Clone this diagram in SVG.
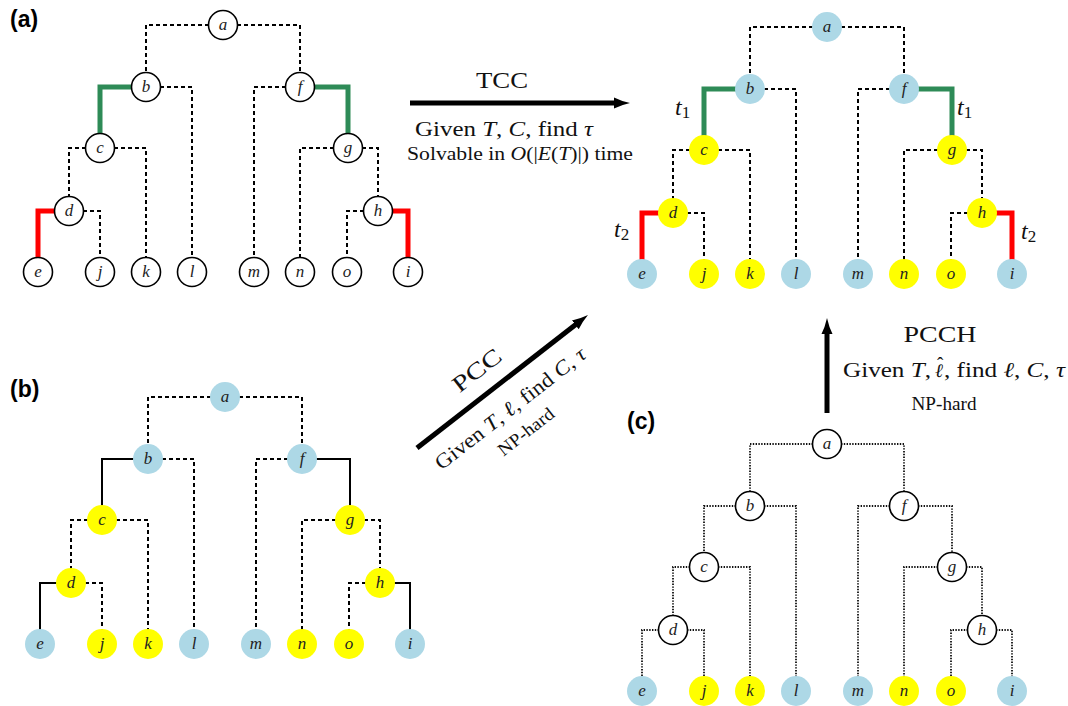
<svg xmlns="http://www.w3.org/2000/svg" width="1068" height="706" viewBox="0 0 1068 706">
<defs>
<style>
.w{fill:#fff;stroke:#000;stroke-width:1.6}
.b{fill:#add8e6}
.y{fill:#ffff00}
.nl{font-family:"Liberation Serif",serif;font-style:italic;font-size:17px;text-anchor:middle;fill:#222}
.e{fill:none;stroke:#000;stroke-width:2;stroke-dasharray:4 3}
.dt{fill:none;stroke:#111;stroke-width:1.8;stroke-dasharray:1.4 1.4}
.s{fill:none;stroke:#000;stroke-width:2}
.gr{fill:none;stroke:#2e8b57;stroke-width:5}
.rd{fill:none;stroke:#ff0000;stroke-width:5}
.ar{fill:none;stroke:#000;stroke-width:5;marker-end:url(#ah)}
.t{font-family:"Liberation Serif",serif;fill:#111}
.i{font-style:italic}
.sl{font-family:"DejaVu Serif",serif;font-style:italic}
.pl{font-family:"Liberation Sans",sans-serif;font-weight:bold;font-size:23px;fill:#000}
</style>
<marker id="ah" markerUnits="userSpaceOnUse" markerWidth="18" markerHeight="14" viewBox="0 0 18 14" refX="3" refY="7" orient="auto">
<path d="M0,1.5 Q7,5 16,7 Q7,9 0,12.5 Z" fill="#000"/>
</marker>
</defs>
<rect width="1068" height="706" fill="#fff"/>

<!-- Panel labels -->
<text class="pl" x="10" y="27">(a)</text>
<text class="pl" x="10" y="397">(b)</text>
<text class="pl" x="627" y="429">(c)</text>

<!-- Panel A -->
<g id="panelA">
<g id="A-edges">
<path class="e" d="M223,25H146V87"/>
<path class="e" d="M223,25H300V87"/>
<path class="gr" d="M146,87H100V148"/>
<path class="e" d="M146,87H192V272"/>
<path class="e" d="M300,87H254V272"/>
<path class="gr" d="M300,87H348V148"/>
<path class="e" d="M100,148H69V211"/>
<path class="e" d="M100,148H146V272"/>
<path class="e" d="M348,148H300V272"/>
<path class="e" d="M348,148H378V211"/>
<path class="rd" d="M69,211H38V272"/>
<path class="e" d="M69,211H100V272"/>
<path class="e" d="M378,211H347V272"/>
<path class="rd" d="M378,211H408V272"/>
</g>
<g id="A-a"><circle class="w" cx="223" cy="25" r="14.5"/><text class="nl" x="223" y="30">a</text></g>
<g id="A-b"><circle class="w" cx="146" cy="87" r="14.5"/><text class="nl" x="146" y="92">b</text></g>
<g id="A-f"><circle class="w" cx="300" cy="87" r="14.5"/><text class="nl" x="300" y="92">f</text></g>
<g id="A-c"><circle class="w" cx="100" cy="148" r="14.5"/><text class="nl" x="100" y="153">c</text></g>
<g id="A-g"><circle class="w" cx="348" cy="148" r="14.5"/><text class="nl" x="348" y="153">g</text></g>
<g id="A-d"><circle class="w" cx="69" cy="211" r="14.5"/><text class="nl" x="69" y="216">d</text></g>
<g id="A-h"><circle class="w" cx="378" cy="211" r="14.5"/><text class="nl" x="378" y="216">h</text></g>
<g id="A-e"><circle class="w" cx="38" cy="272" r="14.5"/><text class="nl" x="38" y="277">e</text></g>
<g id="A-j"><circle class="w" cx="100" cy="272" r="14.5"/><text class="nl" x="100" y="277">j</text></g>
<g id="A-k"><circle class="w" cx="146" cy="272" r="14.5"/><text class="nl" x="146" y="277">k</text></g>
<g id="A-l"><circle class="w" cx="192" cy="272" r="14.5"/><text class="nl" x="192" y="277">l</text></g>
<g id="A-m"><circle class="w" cx="254" cy="272" r="14.5"/><text class="nl" x="254" y="277">m</text></g>
<g id="A-n"><circle class="w" cx="300" cy="272" r="14.5"/><text class="nl" x="300" y="277">n</text></g>
<g id="A-o"><circle class="w" cx="347" cy="272" r="14.5"/><text class="nl" x="347" y="277">o</text></g>
<g id="A-i"><circle class="w" cx="408" cy="272" r="14.5"/><text class="nl" x="408" y="277">i</text></g>
</g>

<!-- Result panel (top right) -->
<g id="panelR" transform="translate(604,2)">
<g id="R-edges">
<path class="e" d="M223,25H146V87"/>
<path class="e" d="M223,25H300V87"/>
<path class="gr" d="M146,87H100V148"/>
<path class="e" d="M146,87H192V272"/>
<path class="e" d="M300,87H254V272"/>
<path class="gr" d="M300,87H348V148"/>
<path class="e" d="M100,148H69V211"/>
<path class="e" d="M100,148H146V272"/>
<path class="e" d="M348,148H300V272"/>
<path class="e" d="M348,148H378V211"/>
<path class="rd" d="M69,211H38V272"/>
<path class="e" d="M69,211H100V272"/>
<path class="e" d="M378,211H347V272"/>
<path class="rd" d="M378,211H408V272"/>
</g>
<g id="R-a"><circle class="b" cx="223" cy="25" r="15"/><text class="nl" x="223" y="30">a</text></g>
<g id="R-b"><circle class="b" cx="146" cy="87" r="15"/><text class="nl" x="146" y="92">b</text></g>
<g id="R-f"><circle class="b" cx="300" cy="87" r="15"/><text class="nl" x="300" y="92">f</text></g>
<g id="R-c"><circle class="y" cx="100" cy="148" r="15"/><text class="nl" x="100" y="153">c</text></g>
<g id="R-g"><circle class="y" cx="348" cy="148" r="15"/><text class="nl" x="348" y="153">g</text></g>
<g id="R-d"><circle class="y" cx="69" cy="211" r="15"/><text class="nl" x="69" y="216">d</text></g>
<g id="R-h"><circle class="y" cx="378" cy="211" r="15"/><text class="nl" x="378" y="216">h</text></g>
<g id="R-e"><circle class="b" cx="38" cy="272" r="15"/><text class="nl" x="38" y="277">e</text></g>
<g id="R-j"><circle class="y" cx="100" cy="272" r="15"/><text class="nl" x="100" y="277">j</text></g>
<g id="R-k"><circle class="y" cx="146" cy="272" r="15"/><text class="nl" x="146" y="277">k</text></g>
<g id="R-l"><circle class="b" cx="192" cy="272" r="15"/><text class="nl" x="192" y="277">l</text></g>
<g id="R-m"><circle class="b" cx="254" cy="272" r="15"/><text class="nl" x="254" y="277">m</text></g>
<g id="R-n"><circle class="y" cx="300" cy="272" r="15"/><text class="nl" x="300" y="277">n</text></g>
<g id="R-o"><circle class="y" cx="347" cy="272" r="15"/><text class="nl" x="347" y="277">o</text></g>
<g id="R-i"><circle class="b" cx="408" cy="272" r="15"/><text class="nl" x="408" y="277">i</text></g>
</g>
<g id="R-labels">
<text class="t i" x="675" y="115" font-size="24">t<tspan font-style="normal" font-size="17" dy="3">1</tspan></text>
<text class="t i" x="957" y="115" font-size="24">t<tspan font-style="normal" font-size="17" dy="3">1</tspan></text>
<text class="t i" x="614" y="237" font-size="24">t<tspan font-style="normal" font-size="17" dy="3">2</tspan></text>
<text class="t i" x="1021" y="239" font-size="24">t<tspan font-style="normal" font-size="17" dy="3">2</tspan></text>
</g>

<!-- Panel B -->
<g id="panelB" transform="translate(2,372)">
<g id="B-edges">
<path class="e" d="M223,25H146V87"/>
<path class="e" d="M223,25H300V87"/>
<path class="s" d="M146,87H100V148"/>
<path class="e" d="M146,87H192V272"/>
<path class="e" d="M300,87H254V272"/>
<path class="s" d="M300,87H348V148"/>
<path class="e" d="M100,148H69V211"/>
<path class="e" d="M100,148H146V272"/>
<path class="e" d="M348,148H300V272"/>
<path class="e" d="M348,148H378V211"/>
<path class="s" d="M69,211H38V272"/>
<path class="e" d="M69,211H100V272"/>
<path class="e" d="M378,211H347V272"/>
<path class="s" d="M378,211H408V272"/>
</g>
<g id="B-a"><circle class="b" cx="223" cy="25" r="15"/><text class="nl" x="223" y="30">a</text></g>
<g id="B-b"><circle class="b" cx="146" cy="87" r="15"/><text class="nl" x="146" y="92">b</text></g>
<g id="B-f"><circle class="b" cx="300" cy="87" r="15"/><text class="nl" x="300" y="92">f</text></g>
<g id="B-c"><circle class="y" cx="100" cy="148" r="15"/><text class="nl" x="100" y="153">c</text></g>
<g id="B-g"><circle class="y" cx="348" cy="148" r="15"/><text class="nl" x="348" y="153">g</text></g>
<g id="B-d"><circle class="y" cx="69" cy="211" r="15"/><text class="nl" x="69" y="216">d</text></g>
<g id="B-h"><circle class="y" cx="378" cy="211" r="15"/><text class="nl" x="378" y="216">h</text></g>
<g id="B-e"><circle class="b" cx="38" cy="272" r="15"/><text class="nl" x="38" y="277">e</text></g>
<g id="B-j"><circle class="y" cx="100" cy="272" r="15"/><text class="nl" x="100" y="277">j</text></g>
<g id="B-k"><circle class="y" cx="146" cy="272" r="15"/><text class="nl" x="146" y="277">k</text></g>
<g id="B-l"><circle class="b" cx="192" cy="272" r="15"/><text class="nl" x="192" y="277">l</text></g>
<g id="B-m"><circle class="b" cx="254" cy="272" r="15"/><text class="nl" x="254" y="277">m</text></g>
<g id="B-n"><circle class="y" cx="300" cy="272" r="15"/><text class="nl" x="300" y="277">n</text></g>
<g id="B-o"><circle class="y" cx="347" cy="272" r="15"/><text class="nl" x="347" y="277">o</text></g>
<g id="B-i"><circle class="b" cx="408" cy="272" r="15"/><text class="nl" x="408" y="277">i</text></g>
</g>

<!-- Panel C -->
<g id="panelC" transform="translate(604,419)">
<g id="C-edges">
<path class="dt" d="M223,25H146V87"/>
<path class="dt" d="M223,25H300V87"/>
<path class="dt" d="M146,87H100V148"/>
<path class="dt" d="M146,87H192V272"/>
<path class="dt" d="M300,87H254V272"/>
<path class="dt" d="M300,87H348V148"/>
<path class="dt" d="M100,148H69V211"/>
<path class="dt" d="M100,148H146V272"/>
<path class="dt" d="M348,148H300V272"/>
<path class="dt" d="M348,148H378V211"/>
<path class="dt" d="M69,211H38V272"/>
<path class="dt" d="M69,211H100V272"/>
<path class="dt" d="M378,211H347V272"/>
<path class="dt" d="M378,211H408V272"/>
</g>
<g id="C-a"><circle class="w" cx="223" cy="25" r="14.5"/><text class="nl" x="223" y="30">a</text></g>
<g id="C-b"><circle class="w" cx="146" cy="87" r="14.5"/><text class="nl" x="146" y="92">b</text></g>
<g id="C-f"><circle class="w" cx="300" cy="87" r="14.5"/><text class="nl" x="300" y="92">f</text></g>
<g id="C-c"><circle class="w" cx="100" cy="148" r="14.5"/><text class="nl" x="100" y="153">c</text></g>
<g id="C-g"><circle class="w" cx="348" cy="148" r="14.5"/><text class="nl" x="348" y="153">g</text></g>
<g id="C-d"><circle class="w" cx="69" cy="211" r="14.5"/><text class="nl" x="69" y="216">d</text></g>
<g id="C-h"><circle class="w" cx="378" cy="211" r="14.5"/><text class="nl" x="378" y="216">h</text></g>
<g id="C-e"><circle class="b" cx="38" cy="272" r="15"/><text class="nl" x="38" y="277">e</text></g>
<g id="C-j"><circle class="y" cx="100" cy="272" r="15"/><text class="nl" x="100" y="277">j</text></g>
<g id="C-k"><circle class="y" cx="146" cy="272" r="15"/><text class="nl" x="146" y="277">k</text></g>
<g id="C-l"><circle class="b" cx="192" cy="272" r="15"/><text class="nl" x="192" y="277">l</text></g>
<g id="C-m"><circle class="b" cx="254" cy="272" r="15"/><text class="nl" x="254" y="277">m</text></g>
<g id="C-n"><circle class="y" cx="300" cy="272" r="15"/><text class="nl" x="300" y="277">n</text></g>
<g id="C-o"><circle class="y" cx="347" cy="272" r="15"/><text class="nl" x="347" y="277">o</text></g>
<g id="C-i"><circle class="b" cx="408" cy="272" r="15"/><text class="nl" x="408" y="277">i</text></g>
</g>

<!-- Transformation arrows -->
<g id="arrows">
<path class="ar" d="M410,103H617"/>
<path class="ar" d="M417,448L577.7,323"/>
<path class="ar" d="M827,413V331"/>
</g>

<g id="arrow-labels">
<text class="t" x="502" y="88" font-size="23" text-anchor="middle" textLength="52" lengthAdjust="spacingAndGlyphs">TCC</text>
<text class="t" x="415" y="136" font-size="21" textLength="178" lengthAdjust="spacingAndGlyphs">Given <tspan class="i">T</tspan>, <tspan class="i">C</tspan>, find <tspan class="i">τ</tspan></text>
<text class="t" x="407" y="160" font-size="19" textLength="226" lengthAdjust="spacingAndGlyphs">Solvable in <tspan class="i">O</tspan>(|<tspan class="i">E</tspan>(<tspan class="i">T</tspan>)|) time</text>

<g transform="translate(417,448) rotate(-37.9)">
<text class="t" x="95" y="-17" font-size="23" text-anchor="middle" textLength="56" lengthAdjust="spacingAndGlyphs">PCC</text>
<text class="t" x="98" y="33" font-size="21" text-anchor="middle" textLength="185" lengthAdjust="spacingAndGlyphs">Given <tspan class="i">T</tspan>, <tspan class="sl">ℓ</tspan>, find <tspan class="i">C</tspan>, <tspan class="i">τ</tspan></text>
<text class="t" x="96" y="60" font-size="18" text-anchor="middle" textLength="66" lengthAdjust="spacingAndGlyphs">NP-hard</text>
</g>

<text class="t" x="940" y="342" font-size="24" text-anchor="middle" textLength="73" lengthAdjust="spacingAndGlyphs">PCCH</text>
<text class="t" x="843" y="377" font-size="21" textLength="88" lengthAdjust="spacingAndGlyphs">Given <tspan class="i">T</tspan>,</text>
<text class="t" x="935" y="377" font-size="19"><tspan class="sl">ℓ</tspan><tspan dx="-6" dy="-7">ˆ</tspan></text>
<text class="t" x="944" y="377" font-size="21" textLength="121" lengthAdjust="spacingAndGlyphs">, find <tspan class="sl">ℓ</tspan>, <tspan class="i">C</tspan>, <tspan class="i">τ</tspan></text>
<text class="t" x="944" y="410" font-size="19" text-anchor="middle" textLength="65" lengthAdjust="spacingAndGlyphs">NP-hard</text>
</g>
</svg>
